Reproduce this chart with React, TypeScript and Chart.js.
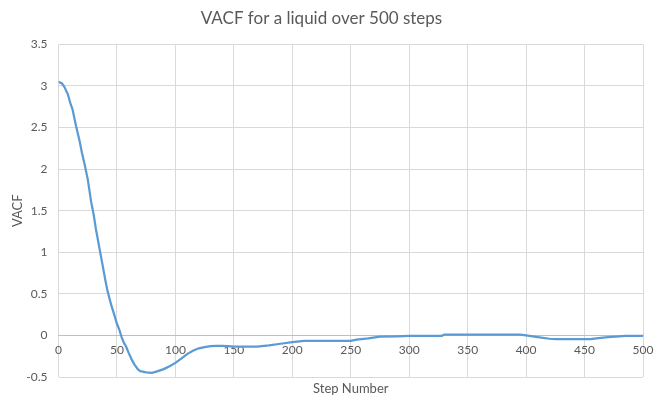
import React, { useEffect, useRef } from "react";
import { Chart, registerables } from "chart.js";

Chart.register(...registerables);

const chartTitle = "VACF for a liquid over 500 steps";
const xAxisTitle = "Step Number";
const yAxisTitle = "VACF";

const steps = [
  0, 3, 5, 8, 10, 12, 15, 18, 20, 22, 25, 28, 30, 32, 35, 37, 40, 42, 45, 47,
  50, 52, 54, 56, 58, 60, 63, 65, 68, 70, 75, 80, 85, 90, 95, 100, 105, 110,
  115, 120, 125, 130, 135, 140, 145, 150, 160, 170, 180, 190, 200, 210, 250,
  255, 265, 275, 290, 300, 328, 330, 395, 400, 410, 420, 425, 455, 460, 470,
  480, 485, 500,
];
const vacf = [
  3.05, 3.03, 2.99, 2.9, 2.8, 2.72, 2.52, 2.34, 2.2, 2.08, 1.88, 1.6, 1.46,
  1.28, 1.05, 0.9, 0.67, 0.53, 0.37, 0.28, 0.14, 0.07, -0.02, -0.09, -0.14,
  -0.21, -0.3, -0.35, -0.41, -0.43, -0.445, -0.45, -0.43, -0.405, -0.37,
  -0.33, -0.28, -0.225, -0.185, -0.155, -0.14, -0.13, -0.125, -0.125, -0.13,
  -0.135, -0.135, -0.135, -0.12, -0.1, -0.08, -0.065, -0.065, -0.05, -0.035,
  -0.015, -0.01, -0.005, -0.005, 0.01, 0.01, 0.0, -0.02, -0.04, -0.045,
  -0.045, -0.035, -0.02, -0.01, -0.005, -0.005,
];

const xMin = 0;
const xMax = 500;
const xStep = 50;
const yMin = -0.5;
const yMax = 3.5;
const yStep = 0.5;

const FONT = "Lato";
const TEXT = "#595959";
const GRID = "#d9d9d9";
const AXIS = "#bfbfbf";
const LINE = "#5b9bd5";

export default function App() {
  const ref = useRef<HTMLCanvasElement | null>(null);

  useEffect(() => {
    if (!ref.current) return;
    const xTitlePlugin = {
      id: "xTitlePlugin",
      afterDraw(chart: any) {
        const { ctx, chartArea } = chart;
        ctx.save();
        ctx.font = `13px ${FONT}`;
        ctx.fillStyle = TEXT;
        ctx.textAlign = "center";
        ctx.textBaseline = "middle";
        ctx.fillText(xAxisTitle, (chartArea.left + chartArea.right) / 2, chart.height - 10);
        ctx.restore();
      },
    };

    const chart = new Chart(ref.current, {
      type: "line",
      data: {
        datasets: [
          {
            data: steps.map((s, i) => ({ x: s, y: vacf[i] })),
            borderColor: LINE,
            borderWidth: 2.25,
            pointRadius: 0,
            tension: 0,
            fill: false,
          },
        ],
      },
      options: {
        animation: false,
        responsive: true,
        maintainAspectRatio: false,
        layout: { padding: { left: 0, right: 12, top: 0, bottom: 22 } },
        plugins: {
          legend: { display: false },
          tooltip: { enabled: false },
          title: {
            display: true,
            text: chartTitle,
            color: TEXT,
            font: { family: FONT, size: 17, weight: "normal" },
            padding: { top: 8, bottom: 16 },
          },
        },
        scales: {
          x: {
            type: "linear",
            min: xMin,
            max: xMax,
            position: { y: 0 } as any,
            afterFit: (s: any) => {
              s.height = 0;
              s.paddingRight = 0;
              s.paddingLeft = 0;
            },
            ticks: {
              stepSize: xStep,
              color: TEXT,
              font: { family: FONT, size: 12 },
              padding: 7,
              maxRotation: 0,
            },
            grid: { color: GRID, drawTicks: false, lineWidth: 1 },
            border: { display: true, color: AXIS, width: 1 },
          },
          y: {
            type: "linear",
            min: yMin,
            max: yMax,
            afterFit: (s: any) => {
              s.width = 58.5;
              s.paddingBottom = 0;
            },
            ticks: {
              stepSize: yStep,
              color: TEXT,
              font: { family: FONT, size: 12 },
              padding: 11,
              callback: (v: any) => String(Number(v)),
            },
            grid: {
              color: (c: any) => (c.tick && c.tick.value === 0 ? AXIS : GRID),
              drawTicks: false,
              lineWidth: 1,
            },
            border: { display: false },
            title: {
              display: true,
              text: yAxisTitle,
              color: TEXT,
              font: { family: FONT, size: 13 },
              padding: { top: 10, bottom: 0 },
            },
          },
        },
      },
      plugins: [xTitlePlugin],
    });
    return () => chart.destroy();
  }, []);

  return (
    <div style={{ position: "absolute", left: 0, top: 0, width: 655, height: 399, background: "#ffffff" }}>
      <canvas ref={ref} />
    </div>
  );
}
